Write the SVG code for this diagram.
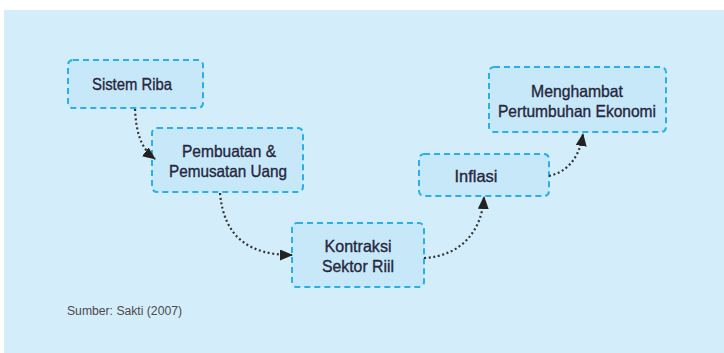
<svg xmlns="http://www.w3.org/2000/svg" width="724" height="353" viewBox="0 0 724 353">
<style>
.box{fill:#c6e8f8;stroke:#2ab0e8;stroke-width:2;stroke-dasharray:6,4;}
.lbl{font-family:"Liberation Sans",Arial,sans-serif;font-size:16.5px;fill:#26263e;stroke:#26263e;stroke-width:0.35;text-anchor:middle;}
.src{font-family:"Liberation Sans",Arial,sans-serif;font-size:12px;fill:#4a4a4a;}
.con{fill:none;stroke:#333;stroke-width:2.2;stroke-dasharray:2,2.6;}
</style>
<defs>
<marker id="ah" markerUnits="userSpaceOnUse" markerWidth="13" markerHeight="11" refX="12" refY="5.5" orient="auto">
<path d="M0,0 L13,5.5 L0,11 z" fill="#222"/>
</marker>
</defs>
<rect x="4" y="10" width="720" height="343" fill="#d4edfa"/>
<g id="n1">
<rect class="box" x="68" y="60" width="135" height="48" rx="5"/>
<text class="lbl" x="132" y="90" textLength="80" lengthAdjust="spacingAndGlyphs">Sistem Riba</text>
</g>
<g id="n2">
<rect class="box" x="152" y="128" width="151" height="64" rx="5"/>
<text class="lbl" x="229" y="157" textLength="94" lengthAdjust="spacingAndGlyphs">Pembuatan &amp;</text>
<text class="lbl" x="228" y="177" textLength="118" lengthAdjust="spacingAndGlyphs">Pemusatan Uang</text>
</g>
<g id="n3">
<rect class="box" x="292" y="223" width="132" height="64" rx="5"/>
<text class="lbl" x="358" y="252" textLength="67" lengthAdjust="spacingAndGlyphs">Kontraksi</text>
<text class="lbl" x="358" y="272" textLength="72" lengthAdjust="spacingAndGlyphs">Sektor Riil</text>
</g>
<g id="n4">
<rect class="box" x="419" y="154" width="130" height="42" rx="5"/>
<text class="lbl" x="476" y="182" textLength="43" lengthAdjust="spacingAndGlyphs">Inflasi</text>
</g>
<g id="n5">
<rect class="box" x="489" y="67" width="177" height="65" rx="5"/>
<text class="lbl" x="577" y="97" textLength="92" lengthAdjust="spacingAndGlyphs">Menghambat</text>
<text class="lbl" x="577" y="117" textLength="158" lengthAdjust="spacingAndGlyphs">Pertumbuhan Ekonomi</text>
</g>
<g id="connectors">
<path class="con" d="M135,109 C136,130 140,148 155,159" marker-end="url(#ah)"/>
<path class="con" d="M220,193 C224,238 250,255 292,255" marker-end="url(#ah)"/>
<path class="con" d="M424,258 C462,256 482,230 484,197" marker-end="url(#ah)"/>
<path class="con" d="M549,176 C566,172 579,160 583,134" marker-end="url(#ah)"/>
</g>
<text class="src" x="67" y="315" textLength="115" lengthAdjust="spacingAndGlyphs">Sumber: Sakti (2007)</text>
</svg>
